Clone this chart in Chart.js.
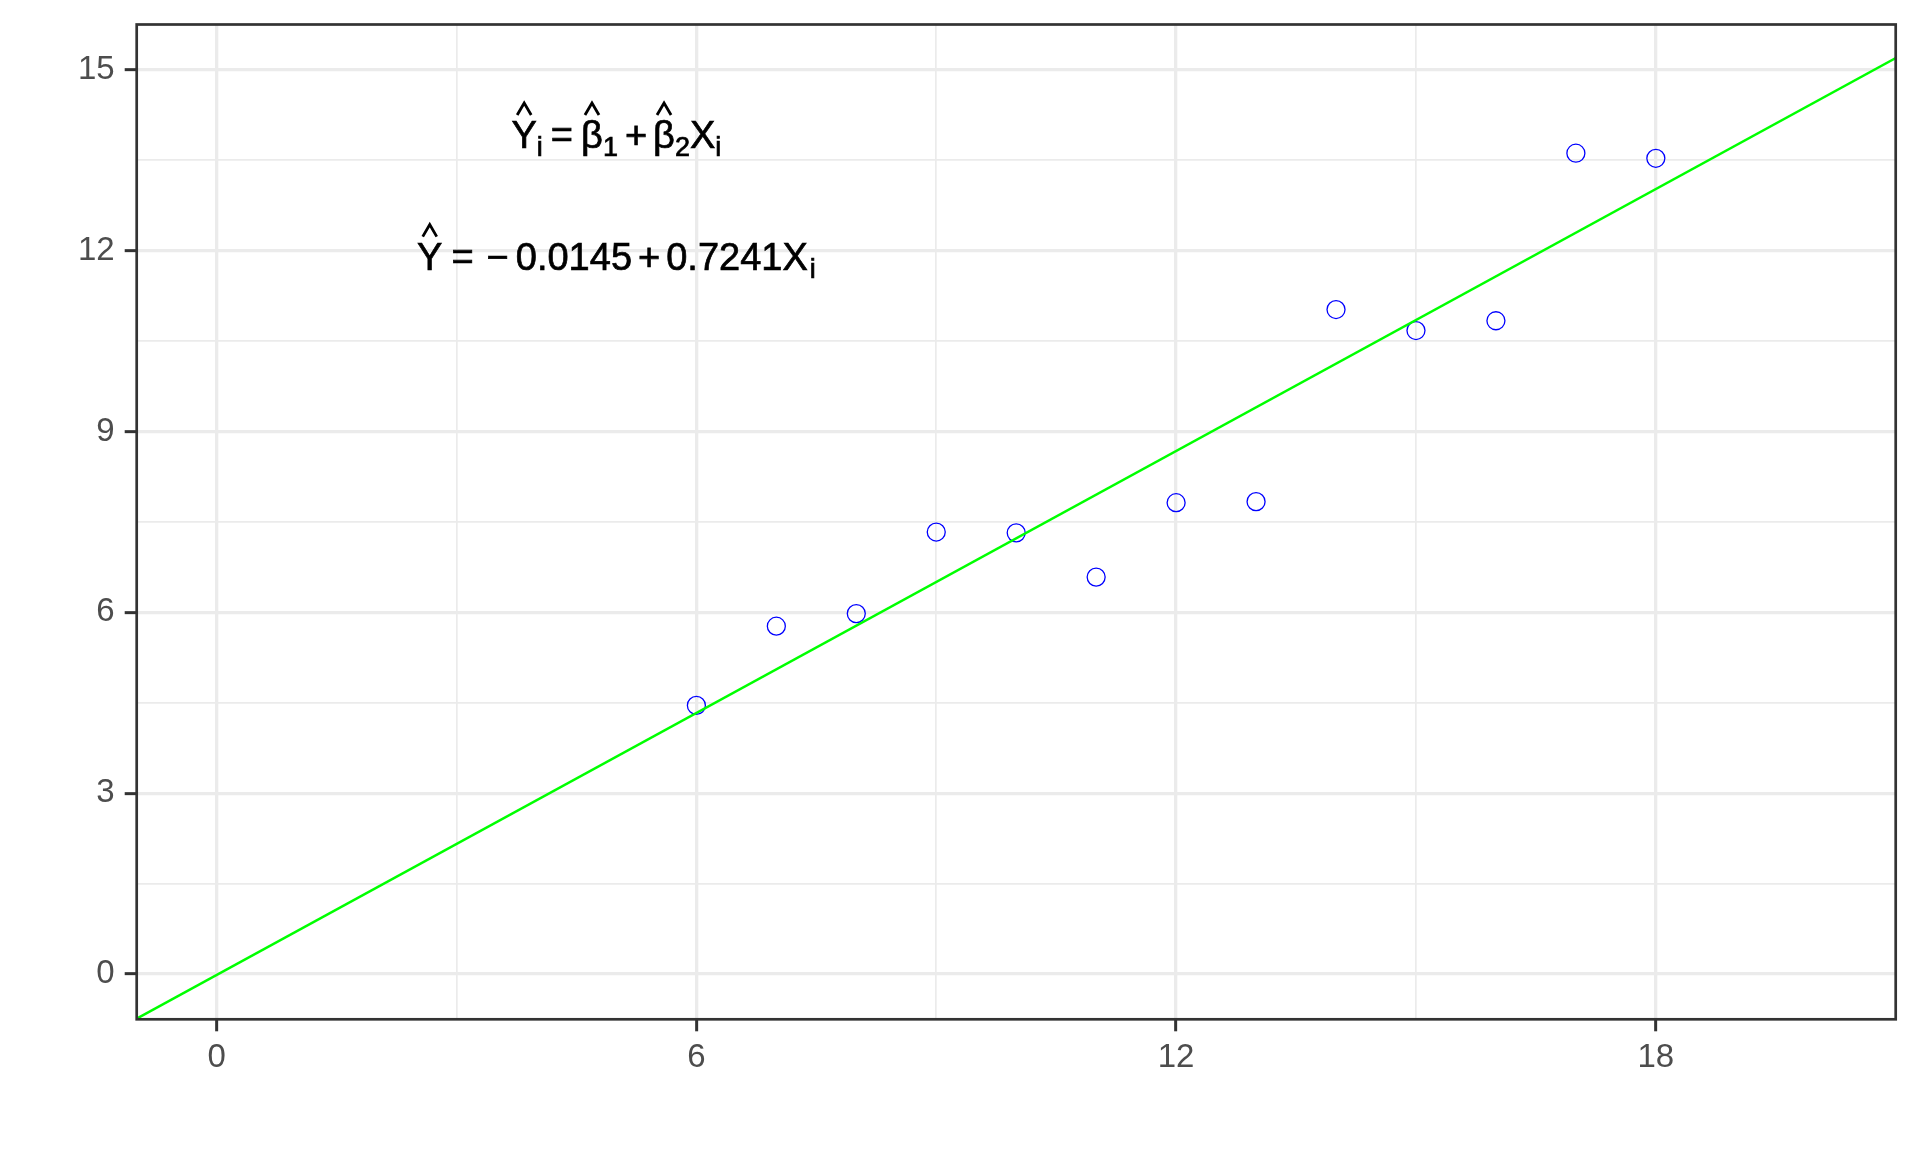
<!DOCTYPE html>
<html>
<head>
<meta charset="utf-8">
<script src="https://cdn.jsdelivr.net/npm/chart.js@4.4.1/dist/chart.umd.min.js"></script>
<style>
  html, body { margin: 0; padding: 0; background: #ffffff; }
  #wrap { width: 1920px; height: 1152px; position: relative; }
</style>
</head>
<body>
<div id="wrap"><canvas id="wageChart"></canvas></div>
<script>
// data: years of schooling vs mean hourly wage
const schooling = [6, 7, 8, 9, 10, 11, 12, 13, 14, 15, 16, 17, 18];
const wage = [4.4567, 5.7700, 5.9787, 7.3317, 7.3182, 6.5844, 7.8182, 7.8351, 11.0223, 10.6738, 10.8361, 13.6150, 13.5310];

// fitted line coefficients
const b1 = -0.0145;
const b2 = 0.7241;

// axis limits and breaks
const xMin = -1, xMax = 21;
const yMin = -0.75, yMax = 15.75;
const xBreaks = [0, 6, 12, 18];
const xMinor = [3, 9, 15, 21];
const yBreaks = [0, 3, 6, 9, 12, 15];
const yMinor = [1.5, 4.5, 7.5, 10.5, 13.5];

const pts = schooling.map((x, i) => ({ x: x, y: wage[i] }));
const fitLine = [xMin, xMax].map(x => ({ x: x, y: b1 + b2 * x }));

const FONT = '"Liberation Sans", Arial, sans-serif';
const GRID = '#ebebeb';
const DARK = '#333333';

function gridStyle(breaks) {
    return {
        color: ctx => GRID,
        lineWidth: ctx => breaks.includes(ctx.tick.value) ? 3.3 : 1.7,
        drawTicks: true,
        tickLength: 12,
        tickWidth: 3,
        tickColor: ctx => breaks.includes(ctx.tick.value) ? DARK : 'rgba(0,0,0,0)'
    };
}

// equations drawn piece by piece: gap = space before the piece
const eq1 = [
    { t: 'Y', hat: true }, { t: 'i', sub: true },
    { t: '=', gap: 8 },
    { t: '\u03B2', hat: true, gap: 8 }, { t: '1', sub: true },
    { t: '+', gap: 7 },
    { t: '\u03B2', hat: true, gap: 6 }, { t: '2', sub: true },
    { t: 'X' }, { t: 'i', sub: true }
];
const eq2 = [
    { t: 'Y', hat: true },
    { t: '=', gap: 9 },
    { t: '\u2212', gap: 13 },
    { t: '0.0145', gap: 7 },
    { t: '+', gap: 6 },
    { t: '0.7241', gap: 6 },
    { t: 'X' }, { t: 'i', sub: true, gap: 2 }
];

function drawEq(ctx, tokens, cx, baseY) {
    const big = 38, small = 27;
    ctx.save();
    ctx.fillStyle = '#000000';
    ctx.strokeStyle = '#000000';
    ctx.textBaseline = 'alphabetic';
    ctx.textAlign = 'left';
    let total = 0;
    tokens.forEach(tk => {
        ctx.font = (tk.sub ? small : big) + 'px ' + FONT;
        tk.w = ctx.measureText(tk.t).width;
        total += tk.w + (tk.gap || 0);
    });
    let x = cx - total / 2;
    tokens.forEach(tk => {
        x += tk.gap || 0;
        ctx.font = (tk.sub ? small : big) + 'px ' + FONT;
        const y = tk.sub ? baseY + 8 : baseY;
        ctx.lineWidth = 0.7;
        ctx.fillText(tk.t, x, y);
        ctx.strokeText(tk.t, x, y);
        if (tk.hat) {
            const hx = x + tk.w / 2;
            ctx.beginPath();
            ctx.lineWidth = 2.8;
            ctx.moveTo(hx - 7, baseY - 33);
            ctx.lineTo(hx, baseY - 45);
            ctx.lineTo(hx + 7, baseY - 33);
            ctx.stroke();
        }
        x += tk.w;
    });
    ctx.restore();
}

const panelPlugin = {
    id: 'panel',
    afterDraw(chart) {
        const { ctx, chartArea: a, scales } = chart;
        ctx.save();
        ctx.strokeStyle = DARK;
        ctx.lineWidth = 2.7;
        ctx.strokeRect(a.left, a.top, a.right - a.left, a.bottom - a.top);
        ctx.restore();
        const cx = scales.x.getPixelForValue(5);
        drawEq(ctx, eq1, cx, scales.y.getPixelForValue(14) + 18);
        drawEq(ctx, eq2, cx, scales.y.getPixelForValue(12) + 19);
    }
};

const ctx = document.getElementById('wageChart').getContext('2d');
const wageChart = new Chart(ctx, {
    type: 'scatter',
    data: {
        datasets: [
            {
                type: 'line',
                data: fitLine,
                borderColor: '#00ff00',
                borderWidth: 2.4,
                pointRadius: 0,
                fill: false,
                order: 0
            },
            {
                data: pts,
                pointStyle: 'circle',
                pointRadius: 9,
                pointBorderWidth: 1.3,
                borderColor: '#0000ff',
                backgroundColor: 'rgba(0,0,0,0)',
                order: 1
            }
        ]
    },
    options: {
        responsive: true,
        maintainAspectRatio: false,
        animation: false,
        layout: { padding: { top: 24.5, right: 24.3, bottom: 0, left: 0 } },
        plugins: { legend: { display: false }, tooltip: { enabled: false } },
        scales: {
            x: {
                type: 'linear',
                min: xMin,
                max: xMax,
                afterBuildTicks: s => { s.ticks = xBreaks.concat(xMinor).sort((a, b) => a - b).map(v => ({ value: v })); },
                afterFit: s => { s.height = 132.7; s.paddingLeft = 0; s.paddingRight = 0; },
                grid: gridStyle(xBreaks),
                border: { display: false },
                ticks: {
                    autoSkip: false,
                    maxRotation: 0,
                    padding: 7,
                    color: '#4d4d4d',
                    font: { family: FONT, size: 33 },
                    callback: v => xBreaks.includes(v) ? String(v) : ''
                }
            },
            y: {
                type: 'linear',
                min: yMin,
                max: yMax,
                afterBuildTicks: s => { s.ticks = yBreaks.concat(yMinor).sort((a, b) => a - b).map(v => ({ value: v })); },
                afterFit: s => { s.width = 136.7; s.paddingTop = 0; s.paddingBottom = 0; },
                grid: gridStyle(yBreaks),
                border: { display: false },
                ticks: {
                    autoSkip: false,
                    padding: 10,
                    color: '#4d4d4d',
                    font: { family: FONT, size: 33 },
                    callback: v => yBreaks.includes(v) ? String(v) : ''
                }
            }
        }
    },
    plugins: [panelPlugin]
});
</script>
</body>
</html>
